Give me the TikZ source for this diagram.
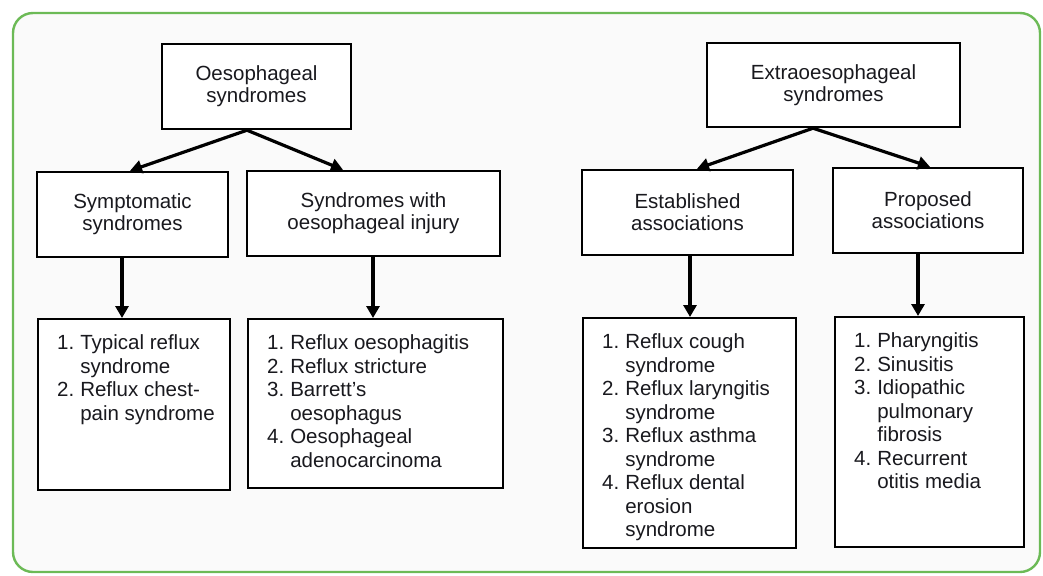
\documentclass[tikz,border=0pt]{standalone}
\usepackage{fontspec}
\setmainfont{Liberation Sans}
\usepackage{xcolor}
\usetikzlibrary{arrows.meta, positioning}

\definecolor{framegreen}{RGB}{108,186,86}
\definecolor{inkgrey}{RGB}{25,25,30}

\begin{document}
\begin{tikzpicture}[
    x=1pt, y=-1pt,
    >={Triangle[length=12pt,width=13pt]},
    box/.style={rectangle, draw=black, fill=white, line width=2.4pt, align=center, inner sep=0pt, text=inkgrey, font=\fontsize{20.5}{22}\selectfont},
    listbox/.style={rectangle, draw=black, fill=white, line width=2.4pt, anchor=north west, inner xsep=19pt, inner ysep=14pt, text=inkgrey, font=\fontsize{20.5}{23.5}\selectfont},
    arr/.style={->, line width=3.2pt, color=black}
]

% Frame and canvas
\useasboundingbox (0,0) rectangle (1043,575);
\draw[framegreen, line width=2.4pt, fill=black!2, rounded corners=20pt] (13,13) rectangle (1040,572);

% Left tree
\node[box, minimum width=189pt, minimum height=85pt] (oes) at (256.5,86.5) {Oesophageal\\syndromes};
\node[box, minimum width=191pt, minimum height=85pt] (sym) at (132.5,214.5) {Symptomatic\\syndromes};
\node[box, minimum width=253pt, minimum height=85pt] (inj) at (373.5,213.5) {Syndromes with\\oesophageal injury};

\node[listbox] (symlist) at (37,318) {\begin{minipage}[t][143pt][t]{154pt}%
\begin{tabular}[t]{@{}l@{\hspace{6pt}}l@{}}
1. & Typical reflux\\
   & syndrome\\
2. & Reflux chest-\\
   & pain syndrome
\end{tabular}\end{minipage}};

\node[listbox] (injlist) at (247,318) {\begin{minipage}[t][141pt][t]{217pt}%
\begin{tabular}[t]{@{}l@{\hspace{6pt}}l@{}}
1. & Reflux oesophagitis\\
2. & Reflux stricture\\
3. & Barrett's\\
   & oesophagus\\
4. & Oesophageal\\
   & adenocarcinoma
\end{tabular}\end{minipage}};

% Right tree
\node[box, minimum width=253pt, minimum height=84pt] (extra) at (833.5,85) {Extraoesophageal\\syndromes};
\node[box, minimum width=211pt, minimum height=85pt] (est) at (687.5,212.5) {Established\\associations};
\node[box, minimum width=190pt, minimum height=85pt] (prop) at (928,210.5) {Proposed\\associations};

\node[listbox] (estlist) at (582,317) {\begin{minipage}[t][202pt][t]{175pt}%
\begin{tabular}[t]{@{}l@{\hspace{6pt}}l@{}}
1. & Reflux cough\\
   & syndrome\\
2. & Reflux laryngitis\\
   & syndrome\\
3. & Reflux asthma\\
   & syndrome\\
4. & Reflux dental\\
   & erosion\\
   & syndrome
\end{tabular}\end{minipage}};

\node[listbox] (proplist) at (834,316) {\begin{minipage}[t][202pt][t]{151pt}%
\begin{tabular}[t]{@{}l@{\hspace{6pt}}l@{}}
1. & Pharyngitis\\
2. & Sinusitis\\
3. & Idiopathic\\
   & pulmonary\\
   & fibrosis\\
4. & Recurrent\\
   & otitis media
\end{tabular}\end{minipage}};

% ---- ARROWS ----
% Parents -> children
\draw[arr] ([xshift=-9.5pt]oes.south) -- ([xshift=-2.5pt]sym.north);
\draw[arr] ([xshift=-9.5pt]oes.south) -- ([xshift=-30.5pt]inj.north);
\draw[arr] ([xshift=-20.5pt]extra.south) -- ([xshift=9.5pt]est.north);
\draw[arr] ([xshift=-20.5pt]extra.south) -- ([xshift=2pt]prop.north);

% Children -> lists
\draw[arr] ([xshift=-10.5pt]sym.south) -- ([xshift=-10.5pt]sym.south |- symlist.north);
\draw[arr] ([xshift=-0.5pt]inj.south) -- ([xshift=-0.5pt]inj.south |- injlist.north);
\draw[arr] ([xshift=2.5pt]est.south) -- ([xshift=2.5pt]est.south |- estlist.north);
\draw[arr] ([xshift=-10pt]prop.south) -- ([xshift=-10pt]prop.south |- proplist.north);

\end{tikzpicture}
\end{document}
